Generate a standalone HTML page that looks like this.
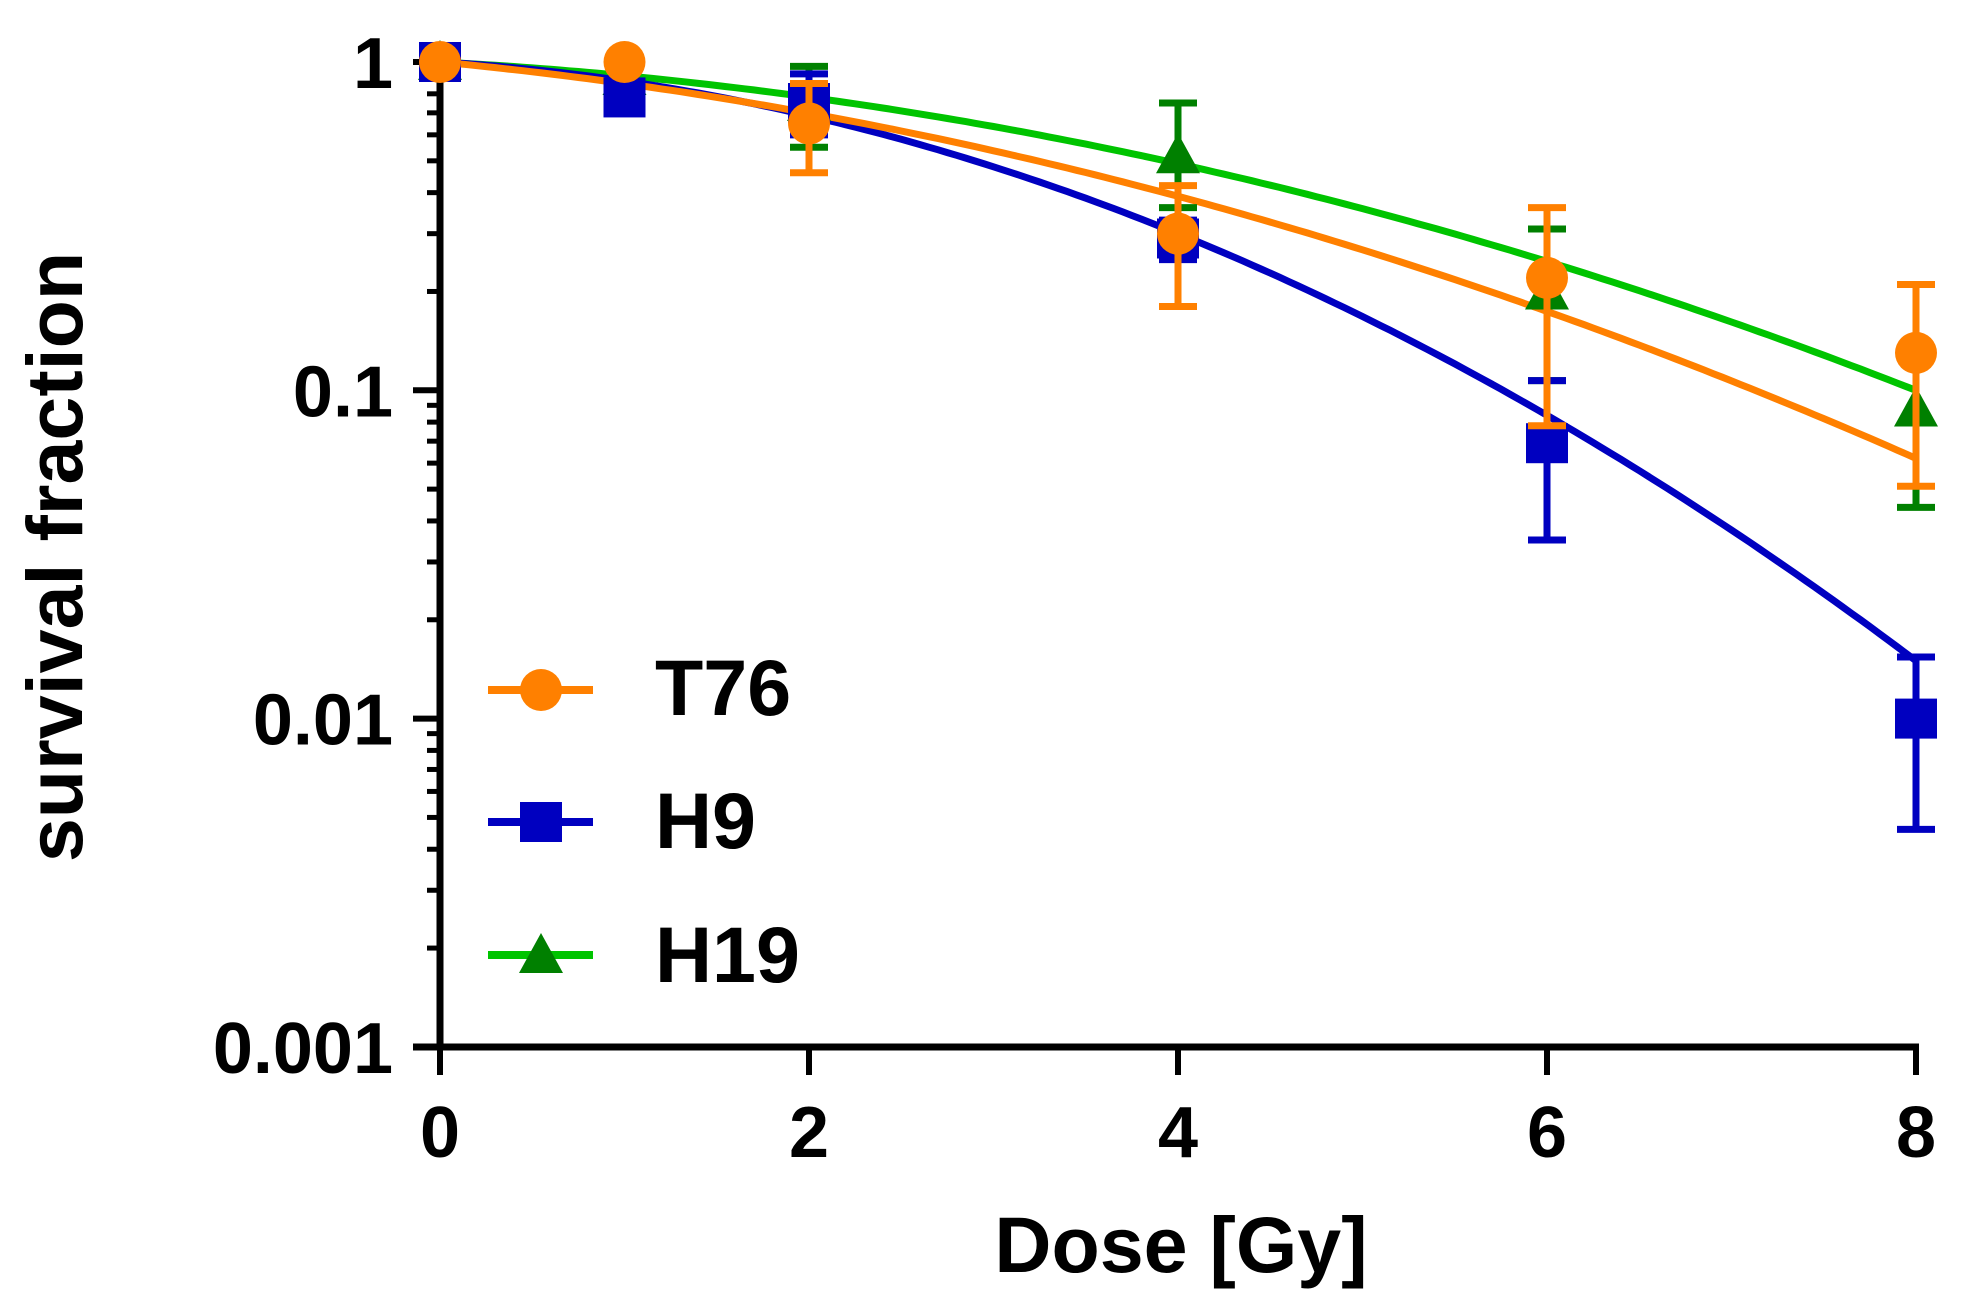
<!DOCTYPE html>
<html><head><meta charset="utf-8"><style>
html,body{margin:0;padding:0;background:#fff;}
svg{display:block;font-family:"Liberation Sans",Arial,sans-serif;font-weight:bold;}
</style></head><body>
<svg id="chart" width="1974" height="1309" viewBox="0 0 1974 1309" xmlns="http://www.w3.org/2000/svg">
<g id="axes"></g>
<g id="series"></g>
<g id="legend"></g>
<text x="1181" y="1272" font-size="79" text-anchor="middle">Dose [Gy]</text>
<text transform="translate(82,557) rotate(-90)" font-size="79" text-anchor="middle">survival fraction</text>
</svg>
<script>
const doses = [0, 1, 2, 4, 6, 8];
const seriesNames = ["H19", "H9", "T76"];
const h19Values = [1, 0.9, 0.75, 0.52, 0.2, 0.088];
const h19Low = [1, 0.9, 0.55, 0.36, 0.107, 0.044];
const h19High = [1, 0.9, 0.97, 0.75, 0.31, 0.135];
const h9Values = [1, 0.78, 0.75, 0.29, 0.069, 0.01];
const h9Low = [1, 0.78, 0.6, 0.25, 0.035, 0.0046];
const h9High = [1, 0.78, 0.92, 0.33, 0.107, 0.0154];
const t76Values = [1, 1.0, 0.65, 0.30, 0.22, 0.13];
const t76Low = [1, 1.0, 0.46, 0.18, 0.078, 0.051];
const t76High = [1, 1.0, 0.86, 0.42, 0.36, 0.21];
const fitAlpha = [0.0687, 0.077, 0.1235];
const fitBeta = [0.0274, 0.056, 0.028];
const xTicks = [0, 2, 4, 6, 8];
const yTicks = [1, 0.1, 0.01, 0.001];
const yTickLabels = ["1", "0.1", "0.01", "0.001"];

const NS = "http://www.w3.org/2000/svg";
const X0 = 440, XU = 184.5, Y1 = 62, DEC = 328.3, YB = 1047;
function sx(v){ return X0 + v * XU; }
function sy(v){ return Y1 - Math.log10(v) * DEC; }
function mk(tag, attrs, parent){
  const e = document.createElementNS(NS, tag);
  for (const k in attrs) e.setAttribute(k, attrs[k]);
  parent.appendChild(e);
  return e;
}
const axes = document.getElementById('axes');
let el;
el = mk('line', {x1: X0, y1: 45, x2: X0, y2: YB + 3, stroke: '#000', 'stroke-width': 7}, axes);


el = mk('line', {x1: X0 - 27, y1: YB, x2: sx(8) + 3, y2: YB, stroke: '#000', 'stroke-width': 7}, axes);


// y major & minor ticks
for (let d = 0; d < 3; d++) {
  const base = Math.pow(10, -d - 1);
  for (let m = 2; m <= 9; m++) {
    const y = sy(base * m);
    el = mk('line', {x1: X0 - 13, y1: y, x2: X0, y2: y, stroke: '#000', 'stroke-width': 5}, axes);
    
    
  }
}
yTicks.forEach((t, i) => {
  const y = sy(t);
  el = mk('line', {x1: X0 - 27, y1: y, x2: X0, y2: y, stroke: '#000', 'stroke-width': 6}, axes);
  
  
  el = mk('text', {x: 393, y: y + 26, 'font-size': 72, 'text-anchor': 'end'}, axes);
  el.textContent = yTickLabels[i];
  
  
});
xTicks.forEach(t => {
  const x = sx(t);
  el = mk('line', {x1: x, y1: YB, x2: x, y2: YB + 28, stroke: '#000', 'stroke-width': 6}, axes);
  
  
  el = mk('text', {x: x, y: 1157, 'font-size': 72, 'text-anchor': 'middle'}, axes);
  el.textContent = String(t);
  
  
});

const ser = document.getElementById('series');
const lineColors = ["#00C400", "#0000C0", "#FF8000"];
const markColors = ["#008000", "#0000C0", "#FF8000"];
const errColors = ["#008000", "#0000C0", "#FF8000"];
const vals = [h19Values, h9Values, t76Values];
const lows = [h19Low, h9Low, t76Low];
const highs = [h19High, h9High, t76High];
const shapes = ["tri", "sq", "circ"];

function marker(shape, x, y, color, parent){
  let m;
  if (shape === 'circ') m = mk('circle', {cx: x, cy: y, r: 21, fill: color}, parent);
  else if (shape === 'sq') m = mk('rect', {x: x - 21, y: y - 20, width: 42, height: 40, fill: color}, parent);
  else m = mk('polygon', {points: `${x},${y-22} ${x+22},${y+18} ${x-22},${y+18}`, fill: color}, parent);
  return m;
}

// fit curves
seriesNames.forEach((n, s) => {
  let d = '';
  for (let i = 0; i <= 160; i++) {
    const D = 8 * i / 160;
    const S = Math.exp(-fitAlpha[s] * D - fitBeta[s] * D * D);
    d += (i ? 'L' : 'M') + sx(D).toFixed(1) + ',' + sy(S).toFixed(1);
  }
  el = mk('path', {d: d, fill: 'none', stroke: lineColors[s], 'stroke-width': 7}, ser);
  
  
});
// error bars and markers
seriesNames.forEach((n, s) => {
  const g = mk('g', {}, ser);
  
  
  doses.forEach((D, i) => {
    const x = sx(D);
    if (highs[s][i] !== lows[s][i]) {
      const yl = sy(lows[s][i]), yh = sy(highs[s][i]);
      el = mk('path', {d: `M${x},${yl}L${x},${yh}M${x-19},${yl}L${x+19},${yl}M${x-19},${yh}L${x+19},${yh}`, stroke: errColors[s], 'stroke-width': 7, fill: 'none'}, g);
      
      
    }
  });
  doses.forEach((D, i) => {
    el = marker(shapes[s], sx(D), sy(vals[s][i]), markColors[s], g);
    
    
  });
});

// legend
const leg = document.getElementById('legend');
const legOrder = [2, 1, 0];
const legY = [690, 822, 955];
const legBase = [715, 848, 982];
legOrder.forEach((s, k) => {
  const g = mk('g', {}, leg);
  
  
  mk('line', {x1: 488, y1: legY[k], x2: 593, y2: legY[k], stroke: lineColors[s], 'stroke-width': 8}, g);
  marker(shapes[s], 541, legY[k], markColors[s], g);
  const t = mk('text', {x: 655, y: legBase[k], 'font-size': 79}, g);
  t.textContent = seriesNames[s];
});
</script>
</body></html>
